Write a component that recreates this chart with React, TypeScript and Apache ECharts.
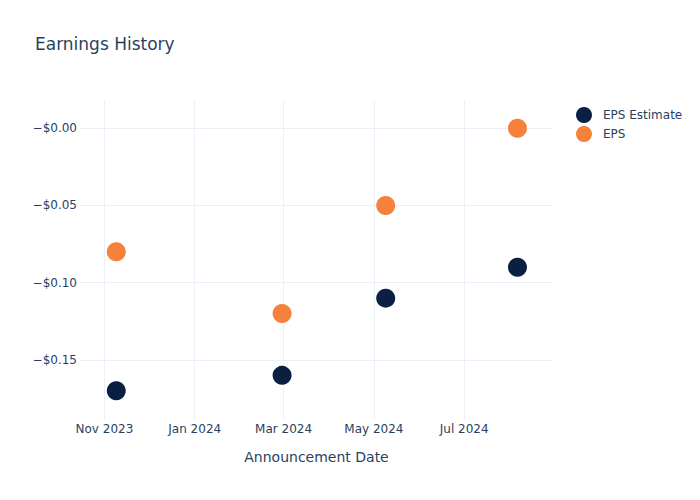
import React, { useEffect, useRef } from "react";
import * as echarts from "echarts";

const dates = ["2023-11-09", "2024-02-29", "2024-05-09", "2024-08-06"];
const epsEstimate = [-0.17, -0.16, -0.11, -0.09];
const eps = [-0.08, -0.12, -0.05, 0.0];
const monthNames = ["Jan", "Feb", "Mar", "Apr", "May", "Jun", "Jul", "Aug", "Sep", "Oct", "Nov", "Dec"];

const FONT = "DejaVu Sans, Verdana, sans-serif";
const TXT = "#2a3f5f";
const GRID = "#ebf0f8";

export default function App() {
  const ref = useRef<HTMLDivElement>(null);
  useEffect(() => {
    if (!ref.current) return;
    const chart = echarts.init(ref.current, undefined, { renderer: "svg" });
    const toTs = (d: string) => new Date(d + "T00:00:00Z").getTime();
    const DAY = 86400000;
    chart.setOption({
      animation: false,
      backgroundColor: "#ffffff",
      textStyle: { fontFamily: FONT, color: TXT },
      title: {
        text: "Earnings History",
        left: 30,
        top: 30,
        textStyle: { fontFamily: FONT, fontSize: 17, fontWeight: "normal", color: TXT },
      },
      legend: {
        left: 571,
        top: 102,
        orient: "vertical",
        icon: "circle",
        itemWidth: 16,
        itemHeight: 16,
        itemGap: 3,
        textStyle: { fontFamily: FONT, fontSize: 12, color: TXT, padding: [0, 0, 0, 6] },
        data: ["EPS Estimate", "EPS"],
      },
      grid: { left: 80, right: 147, top: 100, bottom: 80, containLabel: false },
      xAxis: {
        type: "time",
        min: toTs("2023-10-15") + DAY / 2,
        max: toTs("2024-08-30"),
        minInterval: 75 * DAY,
        maxInterval: 75 * DAY,
        name: "Announcement Date",
        nameLocation: "middle",
        nameGap: 30,
        nameTextStyle: { fontFamily: FONT, fontSize: 14, color: TXT },
        axisLine: { show: false },
        axisTick: { show: false },
        axisLabel: {
          fontFamily: FONT,
          fontSize: 12,
          color: TXT,
          margin: 3,
          hideOverlap: false,
          formatter: (v: number) => {
            const d = new Date(v);
            return monthNames[d.getUTCMonth()] + " " + d.getUTCFullYear();
          },
        },
        splitLine: { show: true, showMinLine: false, showMaxLine: false, lineStyle: { color: GRID, width: 1 } },
      },
      yAxis: {
        type: "value",
        min: -0.1889,
        max: 0.0183,
        splitNumber: 5,
        axisLine: { show: false },
        axisTick: { show: false },
        axisLabel: {
          fontFamily: FONT,
          fontSize: 12,
          color: TXT,
          margin: 3,
          showMinLabel: false,
          showMaxLabel: false,
          formatter: (v: number) => (v <= 0 ? "\u2212" : "") + "$" + Math.abs(v).toFixed(2),
        },
        splitLine: { show: true, showMinLine: false, showMaxLine: false, lineStyle: { color: GRID, width: 1 } },
      },
      series: [
        {
          name: "EPS Estimate",
          type: "scatter",
          symbolSize: 19,
          itemStyle: { color: "#0b1f42", opacity: 1 },
          data: dates.map((d, i) => [toTs(d), epsEstimate[i]]),
        },
        {
          name: "EPS",
          type: "scatter",
          symbolSize: 19,
          itemStyle: { color: "#f5813a", opacity: 1 },
          data: dates.map((d, i) => [toTs(d), eps[i]]),
        },
      ],
    });
    return () => chart.dispose();
  }, []);
  return <div ref={ref} style={{ width: 700, height: 500, position: "absolute", left: 0, top: 0 }} />;
}
